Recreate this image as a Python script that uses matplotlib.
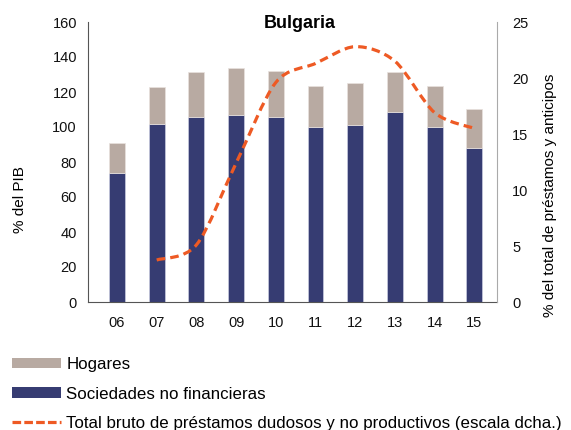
import matplotlib
matplotlib.use("Agg")
import matplotlib.pyplot as plt
import numpy as np
from matplotlib.path import Path
from matplotlib.patches import PathPatch, Patch
from matplotlib.lines import Line2D

plt.rcParams['font.family'] = ['Liberation Sans', 'DejaVu Sans']

years = ["06", "07", "08", "09", "10", "11", "12", "13", "14", "15"]
sociedades = [74, 101.7, 106, 107, 106, 100, 101, 108.7, 100, 88.2]
total_bars = [91, 123, 131.5, 133.5, 132, 123.6, 125, 131.4, 123.6, 110]
hogares = [t - s for t, s in zip(total_bars, sociedades)]
dudosos_years = ["07", "08", "09", "10", "11", "12", "13", "14", "15"]
dudosos = [3.75, 5.1, 12.4, 19.6, 21.3, 22.8, 21.5, 16.9, 15.5]

c_soc = "#363C72"
c_hog = "#B8AAA2"
c_line = "#EE5A24"

fig = plt.figure(figsize=(5.71, 4.30), dpi=100)
ax = fig.add_axes([88/571, 1-302/430, (497-88)/571, (302-22)/430])
x = np.arange(len(years))
w = 0.40
ax.bar(x, sociedades, w, color=c_soc, edgecolor="#C9CBE0", linewidth=0.5, zorder=2)
ax.bar(x, hogares, w, bottom=sociedades, color=c_hog, edgecolor="#E8E2DE", linewidth=0.5, zorder=2)
ax.set_ylim(0, 160)
ax.set_yticks(range(0, 161, 20))
ax.set_xlim(-0.73, 9.57)
ax.set_xticks(x)
ax.set_xticklabels(years)
ax.tick_params(length=0, labelsize=10.5, colors="#111111")
ax.tick_params(axis='x', pad=10)
ax.tick_params(axis='y', pad=8)
for s in ["top", "right"]:
    ax.spines[s].set_visible(False)
ax.spines["left"].set_color("#555555")
ax.spines["bottom"].set_color("#555555")

ax2 = ax.twinx()
ax2.set_ylim(0, 25)
ax2.set_yticks(range(0, 26, 5))
ax2.tick_params(length=0, labelsize=10.5, colors="#111111", pad=11)
for s in ["top", "left", "bottom"]:
    ax2.spines[s].set_visible(False)
ax2.spines["right"].set_color("#AAAAAA")

fig.text(20/571, 1-200/430, "% del PIB", rotation=90, ha="center", va="center",
         fontsize=11)
fig.text(550/571, 1-195/430, "% del total de préstamos y anticipos", rotation=90,
         ha="center", va="center", fontsize=11)

# smoothed line through the data points (Bezier, Excel-like smoothing)
lx = np.array([years.index(y) for y in dudosos_years], dtype=float)
ly = np.array(dudosos, dtype=float)
pts = np.column_stack([lx, ly])
verts = [tuple(pts[0])]
codes = [Path.MOVETO]
t = 0.15
for i in range(len(pts) - 1):
    p0 = pts[i - 1] if i > 0 else pts[i]
    p1 = pts[i]
    p2 = pts[i + 1]
    p3 = pts[i + 2] if i + 2 < len(pts) else pts[i + 1]
    c1 = p1 + (p2 - p0) * t
    c2 = p2 - (p3 - p1) * t
    verts += [tuple(c1), tuple(c2), tuple(p2)]
    codes += [Path.CURVE4] * 3
patch = PathPatch(Path(verts, codes), facecolor="none", edgecolor=c_line,
                  linewidth=2.3, linestyle=(0, (2.7, 1.6)), zorder=3)
ax2.add_patch(patch)

fig.text(300/571, 1-24/430, "Bulgaria", ha="center", va="center",
         fontsize=13, fontweight="bold")

handles = [Patch(facecolor=c_hog, edgecolor="none"),
           Patch(facecolor=c_soc, edgecolor="none"),
           Line2D([], [], color=c_line, linewidth=2.3, linestyle=(0, (2.7, 1.0)))]
labels = ["Hogares", "Sociedades no financieras",
          "Total bruto de préstamos dudosos y no productivos (escala dcha.)"]
fig.legend(handles, labels, loc="upper left", bbox_to_anchor=(12/571, 1-357/430),
           frameon=False, fontsize=12.2, handlelength=2.88, handleheight=0.6,
           labelspacing=0.86, handletextpad=0.32, borderaxespad=0, borderpad=0)

fig.savefig("out.png", dpi=100)
